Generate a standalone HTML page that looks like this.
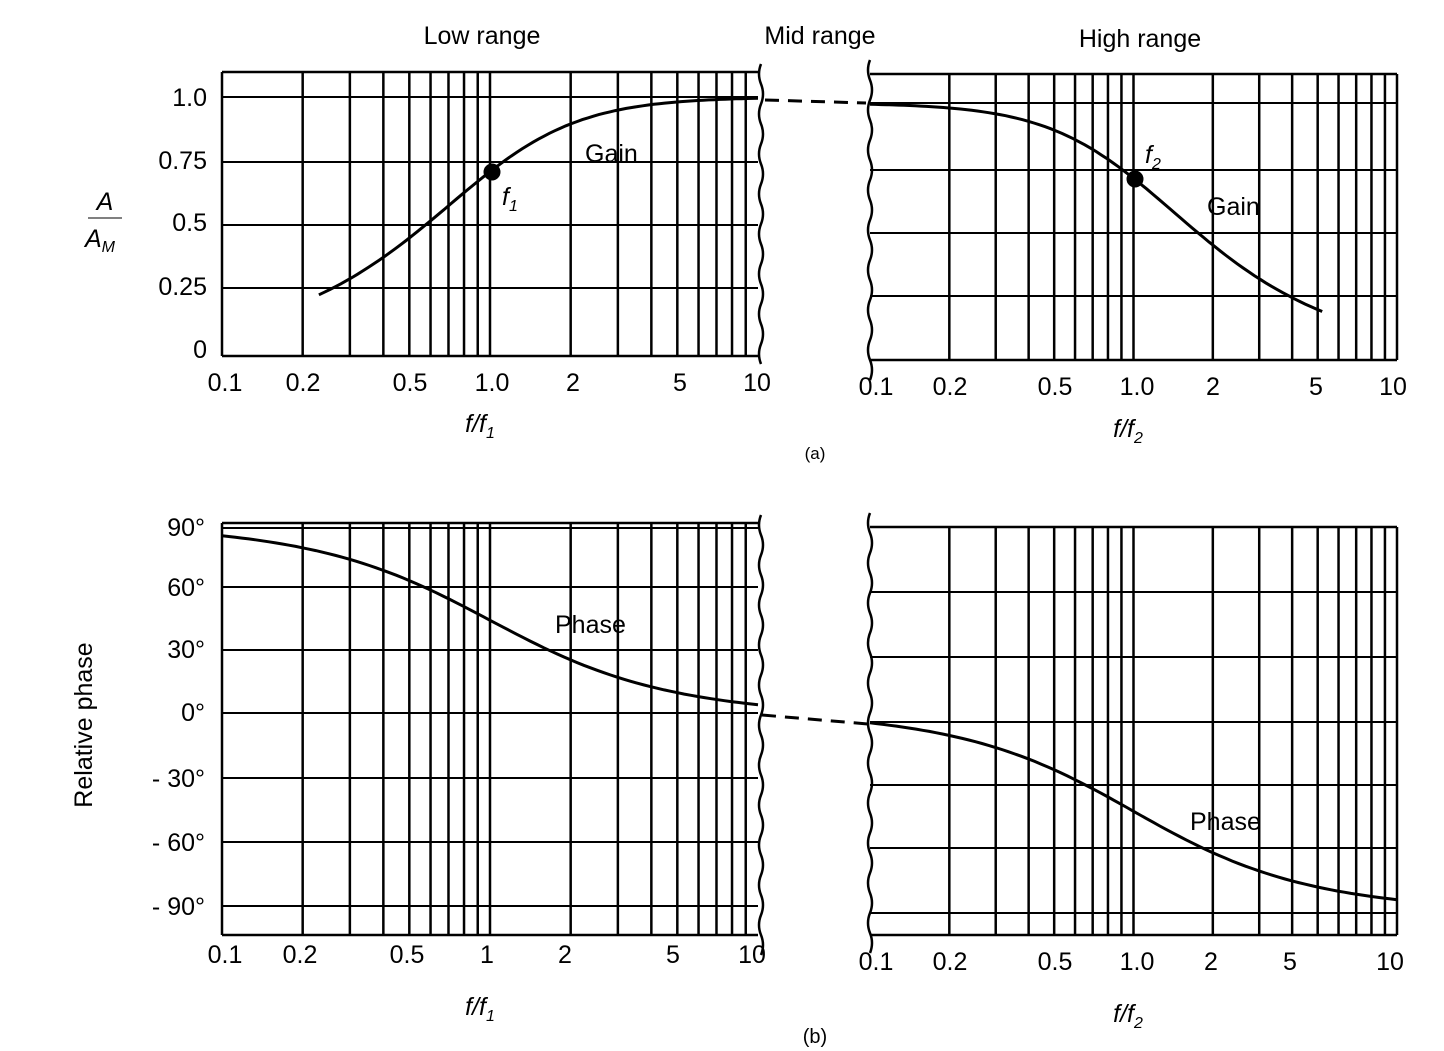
<!DOCTYPE html>
<html><head><meta charset="utf-8"><style>
html,body{margin:0;padding:0;background:#fff}
svg{display:block}
text{font-family:"Liberation Sans",sans-serif;fill:#000}
.t{font-size:25px}
.s{font-family:"Liberation Serif",serif;font-size:25px}
</style></head><body>
<svg id="s" width="1444" height="1051" viewBox="0 0 1444 1051" xmlns="http://www.w3.org/2000/svg">
<g id="g" stroke="#000" fill="none"></g>
<text class="t" x="482" y="44" text-anchor="middle">Low range</text>
<text class="t" x="820" y="44" text-anchor="middle">Mid range</text>
<text class="t" x="1140" y="47" text-anchor="middle">High range</text>
<g class="s" text-anchor="end">
<text x="207" y="106">1.0</text><text x="207" y="169">0.75</text><text x="207" y="231">0.5</text><text x="207" y="295">0.25</text><text x="207" y="358">0</text>
<text x="205" y="536">90°</text><text x="205" y="596">60°</text><text x="205" y="658">30°</text><text x="205" y="721">0°</text><text x="205" y="787">- 30°</text><text x="205" y="851">- 60°</text><text x="205" y="915">- 90°</text>
</g>
<text x="105" y="210" class="t" font-style="italic" text-anchor="middle">A</text>
<line x1="88" y1="218" x2="122" y2="218" stroke="#000" stroke-width="1"/>
<text x="100" y="247" class="t" font-style="italic" text-anchor="middle">A<tspan font-size="16" dy="5">M</tspan></text>
<text class="t" transform="translate(92,725) rotate(-90)" text-anchor="middle">Relative phase</text>
<g class="s" text-anchor="middle">
<text x="225" y="391">0.1</text><text x="303" y="391">0.2</text><text x="410" y="391">0.5</text><text x="492" y="391">1.0</text><text x="573" y="391">2</text><text x="680" y="391">5</text><text x="757" y="391">10</text>
<text x="876" y="395">0.1</text><text x="950" y="395">0.2</text><text x="1055" y="395">0.5</text><text x="1137" y="395">1.0</text><text x="1213" y="395">2</text><text x="1316" y="395">5</text><text x="1393" y="395">10</text>
<text x="225" y="963">0.1</text><text x="300" y="963">0.2</text><text x="407" y="963">0.5</text><text x="487" y="963">1</text><text x="565" y="963">2</text><text x="673" y="963">5</text><text x="752" y="963">10</text>
<text x="876" y="970">0.1</text><text x="950" y="970">0.2</text><text x="1055" y="970">0.5</text><text x="1137" y="970">1.0</text><text x="1211" y="970">2</text><text x="1290" y="970">5</text><text x="1390" y="970">10</text>
</g>
<text class="t" x="480" y="432" font-style="italic" text-anchor="middle">f/f<tspan font-size="16" dy="6">1</tspan></text>
<text class="t" x="480" y="1015" font-style="italic" text-anchor="middle">f/f<tspan font-size="16" dy="6">1</tspan></text>
<text class="t" x="1128" y="437" font-style="italic" text-anchor="middle">f/f<tspan font-size="16" dy="6">2</tspan></text>
<text class="t" x="1128" y="1022" font-style="italic" text-anchor="middle">f/f<tspan font-size="16" dy="6">2</tspan></text>
<text x="815" y="459" font-size="17" text-anchor="middle">(a)</text>
<text x="815" y="1043" font-size="20" text-anchor="middle">(b)</text>
<text class="t" x="585" y="162">Gain</text>
<text class="t" x="1207" y="215">Gain</text>
<text class="t" x="555" y="633">Phase</text>
<text class="t" x="1190" y="830">Phase</text>
<text class="t" x="502" y="205" font-style="italic">f<tspan font-size="16" dy="6">1</tspan></text>
<text class="t" x="1145" y="163" font-style="italic">f<tspan font-size="16" dy="6">2</tspan></text>
</svg>
<script>
var g=document.getElementById('g');
function L(x1,y1,x2,y2,w,d){var l=document.createElementNS('http://www.w3.org/2000/svg','line');l.setAttribute('x1',x1);l.setAttribute('y1',y1);l.setAttribute('x2',x2);l.setAttribute('y2',y2);l.setAttribute('stroke-width',w||2.5);if(d)l.setAttribute('stroke-dasharray',d);g.appendChild(l);}
function P(d,w){var p=document.createElementNS('http://www.w3.org/2000/svg','path');p.setAttribute('d',d);p.setAttribute('stroke-width',w||3);g.appendChild(p);}
function wave(x,y1,y2){var d='M'+x+','+y1;for(var y=y1;y<y2;y+=20){d+=' q'+(((y-y1)/20)%2?4:-4)+',10 0,20';}P(d,2.5);}
function panel(x0,dec,top,bot,hs,rightWave,leftWave){
 for(var k=0;k<2;k++)for(var m=1;m<=10;m++){if(k==1&&m==1)continue;var x=x0+dec*(k+Math.log10(m));if(k==1&&m==10&&rightWave)continue;if(k==0&&m==1&&leftWave)continue;L(x,top,x,bot);}
 var xr=x0+2*dec;
 hs.forEach(function(y){L(x0,y,xr,y,2);});
 L(x0,top,xr,top);L(x0,bot,xr,bot);
 if(rightWave)wave(xr+3,top-8,bot+4);
 if(leftWave)wave(x0,top-14,bot+4);
 return function(f){return x0+dec*Math.log10(f/0.1);};
}
var X1=panel(222,268,72,356,[97,162,225,288],true,false);
var X2=panel(870,263.5,74,360,[103,170,233,296],false,true);
var X3=panel(222,268,523,935,[528,587,650,713,778,842,906],true,false);
var X4=panel(870,263.5,527,935,[592,657,722,785,848,913],false,true);
function curve(X,fn,f0,f1){var d='';for(var i=0;i<=80;i++){var f=f0*Math.pow(f1/f0,i/80);d+=(i?'L':'M')+X(f).toFixed(1)+','+fn(f).toFixed(1);}P(d,3);}
curve(X1,function(f){return 352-255*f/Math.sqrt(1+f*f);},0.23,10);
curve(X2,function(f){return 360-257/Math.sqrt(1+f*f);},0.1,5.2);
curve(X3,function(f){return 717-2.15*Math.atan(1/f)*180/Math.PI;},0.1,10);
curve(X4,function(f){return 710+2.25*Math.atan(f)*180/Math.PI;},0.1,10);
L(765,100,866,103,3,'14,9');L(762,715,868,724,3,'14,9');
var c=document.createElementNS('http://www.w3.org/2000/svg','circle');c.setAttribute('cx',492);c.setAttribute('cy',172);c.setAttribute('r',8);c.setAttribute('fill','#000');g.appendChild(c);
c=c.cloneNode();c.setAttribute('cx',1135);c.setAttribute('cy',179);g.appendChild(c);
</script>
</body></html>
